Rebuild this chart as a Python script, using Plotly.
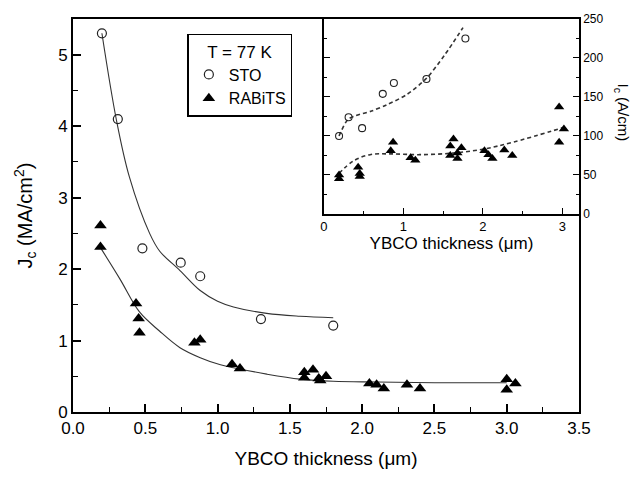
import plotly.graph_objects as go

# ---------------- data ----------------
# main panel: Jc (MA/cm^2) vs YBCO thickness (um)
sto_x = [0.20, 0.31, 0.48, 0.745, 0.88, 1.30, 1.80]
sto_jc = [5.30, 4.10, 2.29, 2.09, 1.90, 1.30, 1.21]

rab_x = [0.19, 0.19, 0.436, 0.454, 0.46, 0.84, 0.88, 1.10, 1.155,
         1.60, 1.60, 1.66, 1.70, 1.71, 1.75, 2.05, 2.10, 2.15, 2.31, 2.40,
         3.00, 3.00, 3.06]
rab_jc = [2.61, 2.31, 1.52, 1.31, 1.11, 0.97, 1.01, 0.67, 0.61,
          0.555, 0.48, 0.59, 0.47, 0.44, 0.50, 0.40, 0.38, 0.33, 0.38, 0.33,
          0.46, 0.31, 0.40]

# fitted curves as traced on the picture
sto_fit_x = [0.20, 0.30, 0.39, 0.53, 0.60, 0.74, 0.88, 1.00, 1.11, 1.34, 1.57, 1.80]
sto_fit_y = [5.30, 4.09, 3.29, 2.50, 2.25, 1.98, 1.70, 1.55, 1.47, 1.38, 1.34, 1.32]

rab_fit_x = [0.19, 0.325, 0.46, 0.60, 0.74, 0.88, 1.02, 1.11, 1.34, 1.57, 1.80, 2.10, 2.50, 3.00]
rab_fit_y = [2.30, 1.86, 1.40, 1.13, 0.90, 0.76, 0.66, 0.62, 0.53, 0.46, 0.43, 0.42, 0.41, 0.41]

# inset: Ic (A/cm) vs thickness
in_sto_x = [0.19, 0.31, 0.48, 0.74, 0.88, 1.29, 1.78]
in_sto_ic = [100, 124, 110, 154, 168, 173, 225]

in_rab_x = [0.19, 0.19, 0.43, 0.45, 0.45, 0.84, 0.87, 1.09, 1.15,
            1.59, 1.59, 1.63, 1.68, 1.68, 1.73, 2.02, 2.07, 2.12, 2.27, 2.37,
            2.96, 2.96, 3.02]
in_rab_ic = [50, 45, 60, 52, 48, 81, 92, 72, 69,
             87, 75, 96, 78, 71, 85, 81, 76, 71, 82, 75,
             137, 92, 109]

in_sto_fit_x = [0.19, 0.30, 0.40, 0.60, 0.79, 1.04, 1.29, 1.52, 1.75]
in_sto_fit_y = [100, 121, 126, 132, 140, 153, 174, 204, 239]

in_rab_fit_x = [0.19, 0.37, 0.58, 0.84, 1.20, 1.62, 2.00, 2.38, 3.02]
in_rab_fit_y = [52, 68, 76, 77, 76, 78, 83, 92, 111]

FONT = "Liberation Sans, Arial, sans-serif"
LINE = "#333333"

fig = go.Figure()

# main fits
fig.add_trace(go.Scatter(x=sto_fit_x, y=sto_fit_y, mode="lines", line=dict(color=LINE, width=1.1, shape="spline"),
                         showlegend=False, hoverinfo="skip"))
fig.add_trace(go.Scatter(x=rab_fit_x, y=rab_fit_y, mode="lines", line=dict(color=LINE, width=1.1, shape="spline"),
                         showlegend=False, hoverinfo="skip"))
# main points
fig.add_trace(go.Scatter(x=sto_x, y=sto_jc, mode="markers", name="STO",
                         marker=dict(symbol="circle-open", size=9, color="#222222", line=dict(width=1.2))))
fig.add_trace(go.Scatter(x=rab_x, y=rab_jc, mode="markers", name="RABiTS",
                         marker=dict(symbol="triangle-up", size=11, color="black")))

# inset fits
fig.add_trace(go.Scatter(x=in_sto_fit_x, y=in_sto_fit_y, xaxis="x2", yaxis="y2", mode="lines",
                         line=dict(color=LINE, width=1.6, dash="4px,3px", shape="spline", smoothing=0.8),
                         showlegend=False, hoverinfo="skip"))
fig.add_trace(go.Scatter(x=in_rab_fit_x, y=in_rab_fit_y, xaxis="x2", yaxis="y2", mode="lines",
                         line=dict(color=LINE, width=1.6, dash="4px,3px", shape="spline"),
                         showlegend=False, hoverinfo="skip"))
# inset points
fig.add_trace(go.Scatter(x=in_sto_x, y=in_sto_ic, xaxis="x2", yaxis="y2", mode="markers", showlegend=False,
                         marker=dict(symbol="circle-open", size=7, color="#222222", line=dict(width=1.1))))
fig.add_trace(go.Scatter(x=in_rab_x, y=in_rab_ic, xaxis="x2", yaxis="y2", mode="markers", showlegend=False,
                         marker=dict(symbol="triangle-up", size=9, color="black")))

axis_common = dict(showgrid=False, zeroline=False, showline=True, linecolor="black",
                   ticks="inside", tickcolor="black")

fig.update_layout(
    width=635, height=479,
    margin=dict(l=73, r=56, t=13, b=67),
    paper_bgcolor="white", plot_bgcolor="white",
    font=dict(family=FONT, color="black", size=17),
    xaxis=dict(**axis_common, domain=[0, 1], range=[0, 3.5], dtick=0.5, tickformat=".1f",
               linewidth=2, mirror=True, ticklen=8, tickwidth=1.5,
               minor=dict(dtick=0.25, ticks="inside", ticklen=5, tickcolor="black", tickwidth=1.2),
               tickfont=dict(size=17),
               title=dict(text="YBCO thickness (μm)", font=dict(size=19), standoff=14)),
    yaxis=dict(**axis_common, domain=[0, 1], range=[0, 5.5], dtick=1,
               linewidth=2, mirror=True, ticklen=8, tickwidth=1.5,
               minor=dict(dtick=0.5, ticks="inside", ticklen=5, tickcolor="black", tickwidth=1.2),
               tickfont=dict(size=17),
               title=dict(text="J<sub>c</sub> (MA/cm<sup>2</sup>)", font=dict(size=20), standoff=20)),
    xaxis2=dict(**axis_common, domain=[0.496, 1], range=[0, 3.21], dtick=1, anchor="y2",
                linewidth=1.5, mirror=True, ticklen=6, tickwidth=1.2,
                minor=dict(dtick=0.5, ticks="inside", ticklen=3, tickcolor="black"),
                tickfont=dict(size=13),
                title=dict(text="YBCO thickness (μm)", font=dict(size=17), standoff=2)),
    yaxis2=dict(**axis_common, domain=[0.504, 1], range=[0, 250], dtick=50, anchor="x2", side="right",
                linewidth=1.5, mirror="ticks", ticklen=6, tickwidth=1.2,
                minor=dict(dtick=25, ticks="inside", ticklen=3, tickcolor="black"),
                tickfont=dict(size=12)),
    legend=dict(x=0.226, y=0.962, xanchor="left", yanchor="top",
                bordercolor="black", borderwidth=1.5, bgcolor="white",
                font=dict(size=16), itemwidth=30, tracegroupgap=0,
                title=dict(text="T = 77 K", side="top center", font=dict(size=17))),
    annotations=[
        dict(text="I<sub>c</sub> (A/cm)", xref="paper", yref="paper", x=1.085, y=0.762,
             textangle=90, showarrow=False, font=dict(size=15), xanchor="center", yanchor="middle"),
    ],
)

fig.write_html("out.html")
